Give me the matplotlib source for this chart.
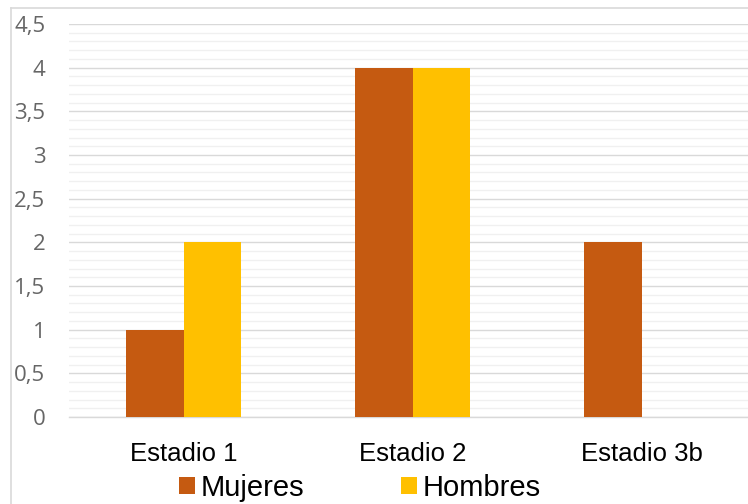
import numpy as np
import matplotlib
matplotlib.use("Agg")
import matplotlib.pyplot as plt
from matplotlib.lines import Line2D
from matplotlib.ticker import MultipleLocator, FuncFormatter

# datos por estadio
estadios = ["Estadio 1", "Estadio 2", "Estadio 3b"]
mujeres = [1, 4, 2]
hombres = [2, 4, 0]

COLOR_MUJ = "#C55A11"
COLOR_HOM = "#FFC000"

fig = plt.figure(figsize=(7.48, 5.04), dpi=100)
# el área de trazado sigue más allá del borde derecho
ax = fig.add_axes([69 / 748, 87 / 504, 687 / 748, 393 / 504])

x = np.arange(len(estadios))
ancho = 0.25
ax.bar(x - ancho / 2, mujeres, ancho, color=COLOR_MUJ, label="Mujeres", zorder=3)
ax.bar(x + ancho / 2, hombres, ancho, color=COLOR_HOM, label="Hombres", zorder=3)

ax.set_xlim(-0.5, len(estadios) - 0.5)
ax.set_ylim(0, 4.5)

ax.yaxis.set_major_locator(MultipleLocator(0.5))
ax.yaxis.set_minor_locator(MultipleLocator(0.1))
ax.yaxis.set_major_formatter(FuncFormatter(lambda v, p: f"{v:g}".replace(".", ",")))
ax.grid(axis="y", which="major", color="#D9D9D9", linewidth=1.0, zorder=0)
ax.grid(axis="y", which="minor", color="#F0F0F0", linewidth=1.0, zorder=0)

for lado in ["top", "right", "left"]:
    ax.spines[lado].set_visible(False)
ax.spines["bottom"].set_color("#D9D9D9")
ax.spines["bottom"].set_linewidth(1.0)

ax.set_xticks(x)
ax.set_xticklabels(estadios, fontsize=18.5, family="Liberation Sans", color="black")
ax.tick_params(axis="x", length=0, pad=18)
ax.tick_params(axis="y", which="both", length=0, pad=17, labelsize=16, labelcolor="#666666")
for t in ax.get_yticklabels():
    t.set_family("Open Sans")

leg = fig.legend(loc="center", bbox_to_anchor=(360 / 748, 1 - 488 / 504), ncol=2,
                 frameon=False, prop={"family": "Liberation Sans", "size": 21},
                 handlelength=0.55, handleheight=0.55, handletextpad=0.2,
                 columnspacing=3.3)

# marco del gráfico
borde = "#D9D9D9"
fig.add_artist(Line2D([11 / 748, 11 / 748], [0, 1 - 8 / 504], color=borde, linewidth=1.2,
                      transform=fig.transFigure))
fig.add_artist(Line2D([11 / 748, 1], [1 - 8 / 504, 1 - 8 / 504], color=borde, linewidth=1.2,
                      transform=fig.transFigure))

fig.savefig("out.png", dpi=100)
